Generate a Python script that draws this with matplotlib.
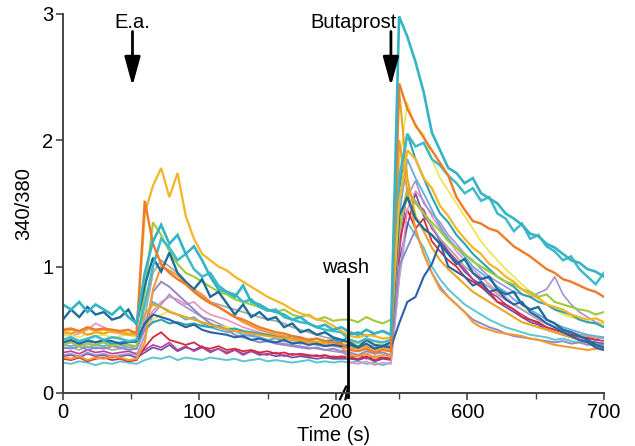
import numpy as np
import matplotlib
matplotlib.use("Agg")
import matplotlib.pyplot as plt

plt.rcParams['font.family'] = ['Liberation Sans', 'DejaVu Sans']

# sample times (s): before the break and after the break
t_before = [0, 6, 12, 18, 24, 30, 36, 42, 48, 54, 60, 66, 72, 78, 84, 90, 96, 102,
            108, 114, 120, 126, 132, 138, 144, 150, 156, 162, 168, 174, 180, 186,
            192, 198, 204]
t_after = [514, 520, 526, 532, 538, 544, 550, 556, 562, 568, 574, 580, 586, 592,
           598, 604, 610, 616, 622, 628, 634, 640, 646, 652, 658, 664, 670, 676,
           682, 688, 694, 700]

# 340/380 ratio of each cell, (before, after) the break
gold_a = [0.49, 0.50, 0.48, 0.51, 0.49, 0.50, 0.48, 0.49, 0.47, 0.48, 1.42, 1.64, 1.78, 1.55, 1.74, 1.40, 1.22, 1.10, 1.05, 1.00,
          0.97, 0.92, 0.88, 0.84, 0.80, 0.76, 0.73, 0.70, 0.66, 0.63, 0.61, 0.58, 0.57, 0.53, 0.49]
gold_b = [0.45, 0.44, 0.46, 0.45, 0.43, 0.44, 1.50, 1.92, 1.85, 1.70, 1.62, 1.48, 1.40, 1.30, 1.22, 1.15, 1.10, 1.02, 0.98, 0.92,
          0.88, 0.82, 0.78, 0.75, 0.70, 0.68, 0.66, 0.62, 0.60, 0.58, 0.59, 0.56]
orange_a = [0.50, 0.51, 0.49, 0.52, 0.50, 0.51, 0.50, 0.49, 0.50, 0.47, 1.52, 1.18, 1.02, 0.95, 0.90, 0.86, 0.80, 0.75, 0.71, 0.68,
            0.64, 0.60, 0.58, 0.55, 0.52, 0.50, 0.48, 0.47, 0.45, 0.44, 0.42, 0.43, 0.41, 0.40, 0.39]
orange_b = [0.34, 0.33, 0.35, 0.32, 0.34, 0.33, 2.45, 2.25, 2.12, 2.02, 1.92, 1.82, 1.72, 1.55, 1.45, 1.36, 1.34, 1.30, 1.28, 1.22,
            1.16, 1.12, 1.08, 1.03, 0.98, 0.95, 0.90, 0.88, 0.85, 0.82, 0.80, 0.76]
cyan_a = [0.70, 0.66, 0.72, 0.64, 0.70, 0.66, 0.62, 0.68, 0.60, 0.55, 0.95, 1.20, 1.33, 1.18, 1.25, 1.10, 1.16, 1.05, 0.92, 0.82,
          0.80, 0.76, 0.85, 0.72, 0.70, 0.66, 0.64, 0.62, 0.58, 0.60, 0.55, 0.52, 0.54, 0.50, 0.52]
cyan_b = [0.48, 0.46, 0.50, 0.47, 0.49, 0.46, 2.98, 2.82, 2.62, 2.38, 2.06, 1.92, 1.78, 1.74, 1.66, 1.70, 1.58, 1.54, 1.50, 1.42,
          1.38, 1.33, 1.26, 1.24, 1.18, 1.15, 1.10, 1.05, 1.03, 0.98, 0.96, 0.92]
cyan2_a = [0.42, 0.44, 0.41, 0.43, 0.45, 0.42, 0.44, 0.43, 0.41, 0.42, 0.70, 1.00, 1.22, 1.15, 1.05, 1.10, 0.98, 0.92, 0.95, 0.85,
           0.80, 0.78, 0.72, 0.74, 0.68, 0.65, 0.66, 0.60, 0.58, 0.56, 0.55, 0.52, 0.50, 0.49, 0.48]
cyan2_b = [0.42, 0.40, 0.43, 0.41, 0.40, 0.42, 1.70, 2.05, 1.95, 1.98, 1.85, 1.80, 1.72, 1.66, 1.58, 1.62, 1.52, 1.55, 1.42, 1.38,
           1.28, 1.34, 1.22, 1.25, 1.16, 1.12, 1.05, 1.08, 0.98, 0.92, 0.86, 0.95]
dkteal_a = [0.58, 0.66, 0.60, 0.68, 0.62, 0.64, 0.58, 0.60, 0.66, 0.54, 0.85, 1.07, 0.96, 1.11, 0.95, 0.88, 0.82, 0.90, 0.76, 0.80,
            0.71, 0.62, 0.70, 0.60, 0.64, 0.58, 0.60, 0.52, 0.55, 0.48, 0.50, 0.46, 0.48, 0.44, 0.42]
dkteal_b = [0.40, 0.36, 0.42, 0.38, 0.37, 0.40, 1.40, 1.55, 1.38, 1.30, 1.25, 1.18, 1.10, 1.02, 1.06, 0.95, 0.90, 0.92, 0.82, 0.78,
            0.80, 0.70, 0.66, 0.68, 0.58, 0.55, 0.50, 0.48, 0.45, 0.42, 0.38, 0.36]
navy_a = [0.40, 0.42, 0.39, 0.41, 0.40, 0.42, 0.41, 0.39, 0.40, 0.41, 0.55, 0.62, 0.60, 0.58, 0.55, 0.52, 0.54, 0.50, 0.48, 0.47,
          0.46, 0.44, 0.45, 0.42, 0.43, 0.41, 0.40, 0.42, 0.39, 0.40, 0.38, 0.39, 0.37, 0.38, 0.37]
navy_b = [0.38, 0.36, 0.39, 0.35, 0.37, 0.36, 0.55, 0.72, 0.76, 0.92, 1.02, 1.19, 1.00, 0.96, 0.92, 0.85, 0.88, 0.80, 0.82, 0.74,
          0.70, 0.72, 0.64, 0.60, 0.55, 0.52, 0.48, 0.45, 0.42, 0.40, 0.36, 0.34]
green_a = [0.38, 0.40, 0.37, 0.39, 0.38, 0.40, 0.37, 0.39, 0.38, 0.37, 0.80, 1.35, 1.25, 1.12, 1.02, 0.95, 0.92, 0.88, 0.84, 0.80,
           0.78, 0.74, 0.72, 0.70, 0.68, 0.66, 0.64, 0.66, 0.62, 0.60, 0.62, 0.58, 0.60, 0.57, 0.58]
green_b = [0.58, 0.56, 0.60, 0.57, 0.55, 0.58, 1.30, 1.62, 1.50, 1.42, 1.35, 1.28, 1.20, 1.15, 1.10, 1.04, 1.00, 0.96, 0.92, 0.88,
           0.86, 0.82, 0.80, 0.76, 0.78, 0.72, 0.70, 0.68, 0.66, 0.65, 0.62, 0.64]
lav_a = [0.36, 0.35, 0.37, 0.34, 0.36, 0.35, 0.37, 0.36, 0.34, 0.35, 0.50, 0.80, 0.88, 0.84, 0.78, 0.72, 0.66, 0.60, 0.55, 0.52,
         0.50, 0.46, 0.44, 0.42, 0.40, 0.41, 0.39, 0.38, 0.37, 0.36, 0.35, 0.36, 0.34, 0.35, 0.33]
lav_b = [0.32, 0.30, 0.33, 0.31, 0.32, 0.30, 1.00, 1.15, 1.29, 1.10, 0.95, 0.84, 0.76, 0.70, 0.64, 0.58, 0.55, 0.52, 0.50, 0.47,
         0.45, 0.44, 0.43, 0.42, 0.41, 0.40, 0.41, 0.39, 0.40, 0.38, 0.39, 0.38]
purple_a = [0.30, 0.31, 0.29, 0.32, 0.30, 0.31, 0.29, 0.30, 0.31, 0.30, 0.45, 0.62, 0.70, 0.78, 0.72, 0.68, 0.64, 0.60, 0.58, 0.55,
            0.52, 0.50, 0.48, 0.46, 0.44, 0.42, 0.40, 0.39, 0.38, 0.37, 0.36, 0.35, 0.34, 0.33, 0.32]
purple_b = [0.30, 0.29, 0.31, 0.28, 0.30, 0.29, 1.30, 1.55, 1.68, 1.50, 1.42, 1.35, 1.25, 1.18, 1.10, 1.05, 0.98, 0.92, 0.88, 0.84,
            0.80, 0.78, 0.76, 0.79, 0.82, 0.92, 0.78, 0.70, 0.64, 0.60, 0.56, 0.54]
pink_a = [0.46, 0.45, 0.47, 0.50, 0.55, 0.52, 0.48, 0.47, 0.46, 0.45, 0.55, 0.65, 0.72, 0.76, 0.74, 0.70, 0.72, 0.66, 0.62, 0.60,
          0.58, 0.55, 0.52, 0.50, 0.48, 0.46, 0.44, 0.43, 0.42, 0.40, 0.41, 0.39, 0.38, 0.37, 0.36]
pink_b = [0.24, 0.23, 0.25, 0.22, 0.24, 0.23, 0.90, 1.45, 1.60, 1.52, 1.40, 1.30, 1.22, 1.12, 1.05, 0.98, 0.92, 0.86, 0.80, 0.76,
          0.70, 0.66, 0.62, 0.58, 0.55, 0.52, 0.50, 0.48, 0.46, 0.45, 0.44, 0.43]
red_a = [0.27, 0.26, 0.28, 0.25, 0.27, 0.28, 0.26, 0.27, 0.25, 0.26, 0.36, 0.44, 0.48, 0.42, 0.40, 0.38, 0.40, 0.36, 0.35, 0.37,
         0.34, 0.35, 0.33, 0.34, 0.32, 0.33, 0.31, 0.32, 0.30, 0.31, 0.30, 0.29, 0.30, 0.28, 0.29]
red_b = [0.28, 0.27, 0.29, 0.26, 0.28, 0.27, 1.20, 1.45, 1.30, 1.38, 1.20, 1.12, 1.05, 1.00, 0.92, 0.88, 0.84, 0.80, 0.72, 0.70,
         0.66, 0.60, 0.58, 0.56, 0.52, 0.50, 0.48, 0.46, 0.45, 0.44, 0.42, 0.44]
magenta_a = [0.32, 0.33, 0.31, 0.34, 0.32, 0.33, 0.31, 0.32, 0.33, 0.31, 0.34, 0.38, 0.36, 0.40, 0.34, 0.37, 0.33, 0.36, 0.32, 0.35,
             0.31, 0.34, 0.30, 0.33, 0.31, 0.30, 0.32, 0.29, 0.31, 0.30, 0.29, 0.30, 0.28, 0.29, 0.28]
magenta_b = [0.28, 0.30, 0.27, 0.29, 0.28, 0.27, 1.10, 1.62, 1.50, 1.45, 1.30, 1.22, 1.12, 1.05, 0.98, 0.90, 0.86, 0.80, 0.76, 0.70,
             0.66, 0.62, 0.58, 0.55, 0.52, 0.50, 0.48, 0.46, 0.44, 0.43, 0.42, 0.41]
violet_a = [0.29, 0.30, 0.28, 0.31, 0.29, 0.30, 0.28, 0.29, 0.30, 0.28, 0.32, 0.36, 0.34, 0.38, 0.33, 0.36, 0.34, 0.37, 0.33, 0.35,
            0.32, 0.34, 0.31, 0.33, 0.30, 0.31, 0.29, 0.30, 0.28, 0.29, 0.28, 0.27, 0.28, 0.27, 0.27]
violet_b = [0.27, 0.26, 0.28, 0.25, 0.27, 0.26, 1.05, 1.32, 1.58, 1.40, 1.32, 1.20, 1.12, 1.04, 0.96, 0.90, 0.84, 0.78, 0.72, 0.68,
            0.64, 0.60, 0.56, 0.54, 0.50, 0.48, 0.46, 0.44, 0.42, 0.41, 0.40, 0.39]
aqua_a = [0.24, 0.23, 0.25, 0.24, 0.22, 0.24, 0.23, 0.25, 0.24, 0.23, 0.26, 0.28, 0.27, 0.29, 0.26, 0.28, 0.27, 0.26, 0.28, 0.27,
          0.26, 0.27, 0.25, 0.26, 0.27, 0.25, 0.26, 0.25, 0.24, 0.25, 0.26, 0.24, 0.25, 0.24, 0.25]
aqua_b = [0.24, 0.25, 0.23, 0.24, 0.22, 0.24, 0.90, 1.35, 1.25, 1.15, 1.00, 0.90, 0.82, 0.76, 0.70, 0.66, 0.62, 0.58, 0.55, 0.52,
          0.50, 0.48, 0.46, 0.45, 0.44, 0.42, 0.43, 0.41, 0.40, 0.41, 0.40, 0.39]
teal_a = [0.40, 0.41, 0.39, 0.42, 0.40, 0.41, 0.39, 0.40, 0.41, 0.40, 0.50, 0.56, 0.58, 0.55, 0.56, 0.54, 0.55, 0.53, 0.52, 0.53,
          0.50, 0.51, 0.49, 0.48, 0.47, 0.46, 0.45, 0.44, 0.45, 0.43, 0.42, 0.43, 0.41, 0.42, 0.40]
teal_b = [0.46, 0.48, 0.45, 0.47, 0.49, 0.46, 1.60, 2.05, 1.85, 1.70, 1.55, 1.42, 1.35, 1.25, 1.18, 1.10, 1.04, 0.98, 0.92, 0.88,
          0.84, 0.78, 0.76, 0.72, 0.70, 0.66, 0.64, 0.62, 0.58, 0.56, 0.55, 0.52]
ltblue_a = [0.38, 0.37, 0.39, 0.36, 0.38, 0.37, 0.39, 0.38, 0.36, 0.37, 0.55, 0.72, 0.68, 0.65, 0.62, 0.58, 0.60, 0.55, 0.52, 0.50,
            0.48, 0.49, 0.46, 0.45, 0.44, 0.42, 0.43, 0.41, 0.40, 0.39, 0.40, 0.38, 0.37, 0.38, 0.36]
ltblue_b = [0.36, 0.35, 0.37, 0.34, 0.36, 0.35, 1.40, 1.85, 1.70, 1.58, 1.45, 1.32, 1.22, 1.15, 1.08, 1.00, 0.95, 0.90, 0.84, 0.80,
            0.74, 0.70, 0.66, 0.62, 0.58, 0.55, 0.52, 0.50, 0.48, 0.46, 0.45, 0.44]
gray_a = [0.35, 0.36, 0.34, 0.37, 0.35, 0.36, 0.34, 0.35, 0.36, 0.35, 0.60, 0.95, 1.05, 1.00, 0.95, 0.88, 0.82, 0.76, 0.72, 0.70,
          0.68, 0.66, 0.64, 0.62, 0.60, 0.58, 0.57, 0.55, 0.52, 0.50, 0.48, 0.46, 0.44, 0.43, 0.42]
gray_b = [0.38, 0.37, 0.39, 0.36, 0.38, 0.37, 1.25, 1.60, 1.52, 1.42, 1.32, 1.22, 1.15, 1.08, 1.00, 0.95, 0.88, 0.84, 0.78, 0.74,
          0.70, 0.66, 0.62, 0.58, 0.55, 0.52, 0.50, 0.48, 0.46, 0.45, 0.44, 0.43]
yellow_a = [0.45, 0.46, 0.44, 0.47, 0.45, 0.46, 0.44, 0.45, 0.46, 0.44, 0.50, 0.58, 0.62, 0.65, 0.62, 0.60, 0.58, 0.56, 0.55, 0.53,
            0.52, 0.50, 0.49, 0.48, 0.47, 0.46, 0.45, 0.44, 0.43, 0.42, 0.42, 0.41, 0.40, 0.40, 0.39]
yellow_b = [0.40, 0.39, 0.41, 0.38, 0.40, 0.39, 1.80, 2.30, 2.10, 2.05, 1.85, 1.70, 1.60, 1.50, 1.40, 1.30, 1.20, 1.12, 1.05, 0.98,
            0.92, 0.86, 0.80, 0.76, 0.70, 0.66, 0.62, 0.60, 0.58, 0.56, 0.55, 0.54]
orange2_a = [0.28, 0.27, 0.29, 0.26, 0.28, 0.27, 0.29, 0.28, 0.26, 0.27, 0.40, 0.82, 1.00, 0.97, 0.93, 0.87, 0.82, 0.78, 0.72, 0.68,
             0.64, 0.60, 0.56, 0.53, 0.50, 0.48, 0.46, 0.45, 0.43, 0.42, 0.41, 0.40, 0.39, 0.38, 0.37]
orange2_b = [0.30, 0.29, 0.31, 0.28, 0.30, 0.29, 2.00, 1.60, 1.30, 1.10, 0.95, 0.82, 0.76, 0.70, 0.64, 0.56, 0.52, 0.50, 0.48, 0.47,
             0.46, 0.45, 0.43, 0.42, 0.40, 0.38, 0.37, 0.36, 0.35, 0.34, 0.35, 0.34]
gold2_a = [0.48, 0.47, 0.49, 0.46, 0.48, 0.47, 0.49, 0.48, 0.46, 0.47, 0.62, 0.70, 0.68, 0.64, 0.62, 0.60, 0.58, 0.56, 0.54, 0.52,
           0.50, 0.49, 0.48, 0.47, 0.46, 0.45, 0.44, 0.43, 0.42, 0.41, 0.40, 0.40, 0.39, 0.38, 0.38]
gold2_b = [0.36, 0.35, 0.37, 0.34, 0.36, 0.35, 2.40, 1.70, 1.40, 1.28, 1.15, 1.05, 0.98, 0.92, 0.86, 0.80, 0.76, 0.72, 0.68, 0.64,
           0.60, 0.56, 0.54, 0.52, 0.50, 0.48, 0.46, 0.44, 0.42, 0.40, 0.38, 0.36]

traces = [
    (aqua_a, aqua_b, '#5cc6d0', 1.4),
    (violet_a, violet_b, '#6c4ea2', 1.2),
    (magenta_a, magenta_b, '#b8409a', 1.2),
    (red_a, red_b, '#d42a3c', 1.3),
    (pink_a, pink_b, '#e690c4', 1.2),
    (purple_a, purple_b, '#a890cc', 1.2),
    (ltblue_a, ltblue_b, '#5aaee0', 1.3),
    (gray_a, gray_b, '#a8a8a8', 1.3),
    (yellow_a, yellow_b, '#ece44c', 1.2),
    (teal_a, teal_b, '#2ba4b2', 1.5),
    (lav_a, lav_b, '#8e8ac6', 1.4),
    (green_a, green_b, '#9ccb3c', 1.5),
    (orange2_a, orange2_b, '#f39a36', 1.5),
    (gold2_a, gold2_b, '#e9a524', 1.5),
    (navy_a, navy_b, '#2a60a8', 1.5),
    (dkteal_a, dkteal_b, '#1d6d9a', 1.7),
    (cyan2_a, cyan2_b, '#3fbac8', 1.8),
    (gold_a, gold_b, '#f4b526', 1.6),
    (orange_a, orange_b, '#f07a2a', 1.7),
    (cyan_a, cyan_b, '#35b4c4', 1.9),
]

# broken time axis: 209..513 s is squeezed to almost nothing
def fwd(t):
    t = np.asarray(t, dtype=float)
    return np.where(t <= 209, t, np.where(t < 513, 209 + (t - 209) * 0.001, t - 513 + 209.304))


def inv(d):
    d = np.asarray(d, dtype=float)
    return np.where(d <= 209, d, np.where(d < 209.304, 209 + (d - 209) / 0.001, d + 513 - 209.304))


fig = plt.figure(figsize=(6.35, 4.46), dpi=100)
ax = fig.add_axes([0.099, 0.119, 0.852, 0.850])
ax.set_xscale('function', functions=(fwd, inv))

t_all = t_before + t_after
for a, b, col, lw in traces:
    ax.plot(t_all, a + b, color=col, lw=lw, solid_joinstyle='miter')

ax.set_xlim(0, 700)
ax.set_ylim(0, 3)
ax.set_xticks([0, 100, 200, 600, 700])
ax.set_xticks([50, 150, 550, 650], minor=True)
ax.set_yticks([0, 1, 2, 3])
ax.set_xticklabels(['0', '100', '200', '600', '700'])

for s in ['top', 'right']:
    ax.spines[s].set_visible(False)
for s in ['left', 'bottom']:
    ax.spines[s].set_linewidth(1.4)
    ax.spines[s].set_color('#444444')
ax.tick_params(axis='both', which='major', length=5, width=1.2, color='#444444',
               labelsize=14.5, pad=2)
ax.tick_params(axis='x', which='minor', length=4, width=1.0, color='#444444')
ax.set_xlabel('Time (s)', fontsize=14.5, labelpad=3)
ax.set_ylabel('340/380', fontsize=14.5, labelpad=6)

# stimulus labels and arrows
arrow = dict(arrowstyle='-|>,head_length=0.8,head_width=0.22', mutation_scale=22,
             lw=2, color='black', shrinkA=0, shrinkB=0)
ax.text(51, 2.93, 'E.a.', ha='center', va='center', fontsize=14.5)
ax.annotate('', xy=(51, 2.43), xytext=(51, 2.86), arrowprops=arrow)
ax.text(517, 2.93, 'Butaprost', ha='center', va='center', fontsize=14.5)
ax.annotate('', xy=(544, 2.43), xytext=(544, 2.86), arrowprops=arrow)

# wash marker and axis break
ax.text(207, 0.99, 'wash', ha='center', va='center', fontsize=14.5)
ax.plot([209, 209], [0.9, -0.03], color='black', lw=2, clip_on=False)
for xb in [205.5, 209.5]:
    ax.plot([xb - 2.5, xb + 2.0], [-0.05, 0.05], color='black', lw=1.6, clip_on=False)

fig.savefig('out.png', dpi=100)
